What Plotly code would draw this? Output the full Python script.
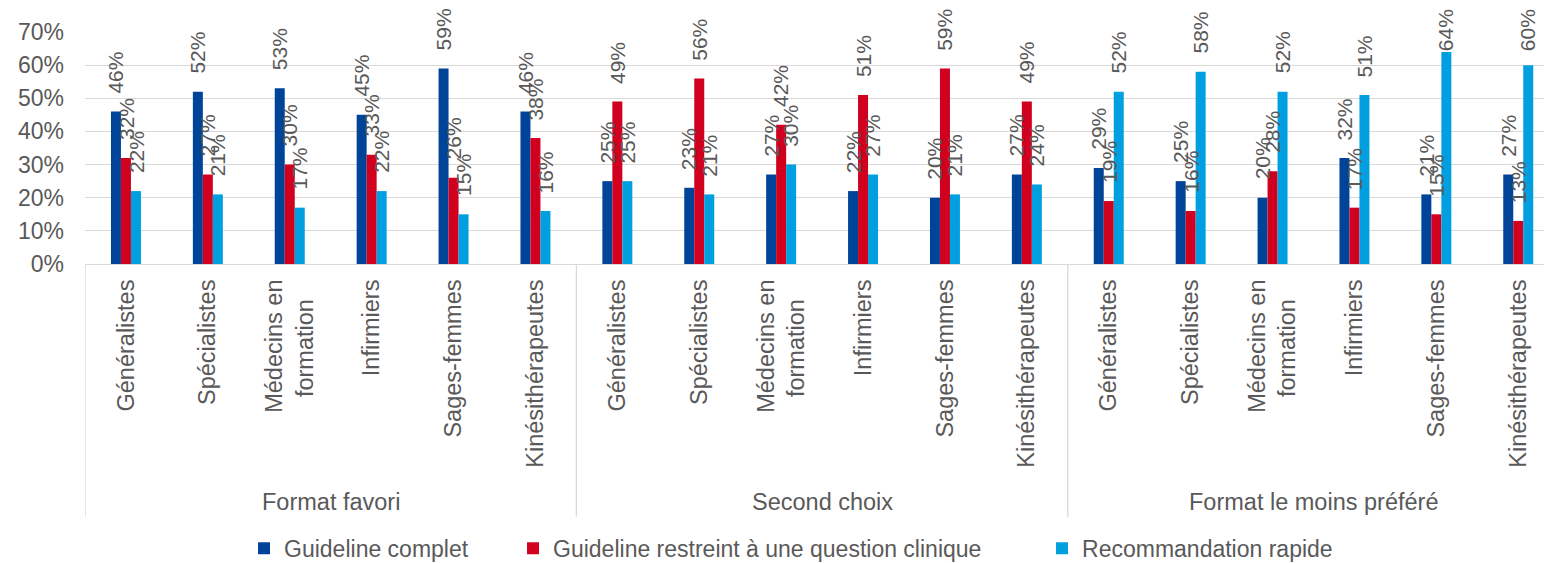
import plotly.graph_objects as go

# ---- data -------------------------------------------------------------
groups = ["Format favori", "Second choix", "Format le moins préféré"]
professions = [
    "Généralistes",
    "Spécialistes",
    "Médecins en<br>formation\u00a0\u00a0\u00a0",
    "Infirmiers",
    "Sages-femmes",
    "Kinésithérapeutes",
]
series_names = [
    "Guideline complet",
    "Guideline restreint à une question clinique",
    "Recommandation rapide",
]

# percentages, one value per (group, profession), groups in order
guideline_complet = [46, 52, 53, 45, 59, 46,
                     25, 23, 27, 22, 20, 27,
                     29, 25, 20, 32, 21, 27]
guideline_restreint = [32, 27, 30, 33, 26, 38,
                       49, 56, 42, 51, 59, 49,
                       19, 16, 28, 17, 15, 13]
recommandation_rapide = [22, 21, 17, 22, 15, 16,
                         25, 21, 30, 27, 21, 24,
                         52, 58, 52, 51, 64, 60]

y_tick_values = [0, 10, 20, 30, 40, 50, 60, 70]
y_tick_labels = ["0%", "10%", "20%", "30%", "40%", "50%", "60%", "70%"]

# ---- style ------------------------------------------------------------
FONT = "Liberation Sans, Arial, sans-serif"
TEXT_COLOR = "#595959"
GRID_COLOR = "#d9d9d9"
COLORS = ["#00449a", "#d2001f", "#009fdf"]
LEGEND_WIDTHS = [224, 484, None]
BARGAP = 0.634
LABEL_GAP = 5.1     # space between bar top and its label, in % units
LABEL_CEIL = 64.0   # highest label base so labels stay on the page

series_values = [guideline_complet, guideline_restreint, recommandation_rapide]
n_groups = len(groups)
n_prof = len(professions)
x_pos = list(range(n_groups * n_prof))
tick_text = professions * n_groups

fig = go.Figure()
for name, vals, color, lw in zip(series_names, series_values, COLORS, LEGEND_WIDTHS):
    fig.add_trace(go.Bar(
        x=x_pos, y=vals, name=name,
        marker=dict(color=color, line=dict(width=0)),
        legendwidth=lw,
        hovertemplate="%{y}%<extra>" + name + "</extra>",
    ))

# rotated value labels above each bar
bar_w = (1 - BARGAP) / len(series_values)
for k, vals in enumerate(series_values):
    off = (k - (len(series_values) - 1) / 2) * bar_w
    for i, v in enumerate(vals):
        fig.add_annotation(
            x=x_pos[i] + off, y=min(v + LABEL_GAP, LABEL_CEIL),
            text=f"{v}%", textangle=-90, showarrow=False,
            xanchor="center", yanchor="bottom", borderpad=0,
            font=dict(family=FONT, size=21, color=TEXT_COLOR),
        )

# group labels under the profession labels
for g, name in enumerate(groups):
    fig.add_annotation(
        x=g * n_prof + (n_prof - 1) / 2, y=-1.0245,
        xref="x", yref="paper", text=name, showarrow=False,
        xanchor="center", yanchor="middle",
        font=dict(family=FONT, size=23.5, color=TEXT_COLOR),
    )

# vertical separators between groups
for g in range(n_groups + 1):
    xd = g * n_prof - 0.5
    fig.add_shape(
        type="line", xref="x", yref="paper",
        x0=xd, x1=xd, y0=0, y1=-1.089,
        line=dict(color=GRID_COLOR, width=1.3),
    )

plot_left, plot_w = 85, 1544 - 85
cat_px = 81.9
fig.update_layout(
    width=1544, height=563, autosize=False,
    margin=dict(l=plot_left, r=0, t=32, b=299, pad=0, autoexpand=False),
    paper_bgcolor="white", plot_bgcolor="white",
    barmode="group", bargap=BARGAP, bargroupgap=0,
    font=dict(family=FONT, color=TEXT_COLOR),
    xaxis=dict(
        tickmode="array", tickvals=x_pos, ticktext=tick_text,
        tickangle=-90, range=[-0.5, -0.5 + plot_w / cat_px],
        showgrid=False, zeroline=False, ticks="",
        showline=True, linecolor=GRID_COLOR, linewidth=1.3,
        tickfont=dict(family=FONT, size=23.5, color=TEXT_COLOR),
        ticklabelstandoff=5,
    ),
    yaxis=dict(
        range=[0, 70], tickmode="array",
        tickvals=y_tick_values, ticktext=y_tick_labels,
        showgrid=True, gridcolor=GRID_COLOR, gridwidth=1.3,
        zeroline=False, showline=False, ticks="",
        tickfont=dict(family=FONT, size=23, color=TEXT_COLOR),
        ticklabelstandoff=20,
    ),
    legend=dict(
        orientation="h", x=0.109, xanchor="left",
        y=-1.225, yanchor="middle",
        font=dict(family=FONT, size=23, color=TEXT_COLOR),
        itemclick=False,
    ),
    showlegend=True,
)

fig.write_html("out.html")
